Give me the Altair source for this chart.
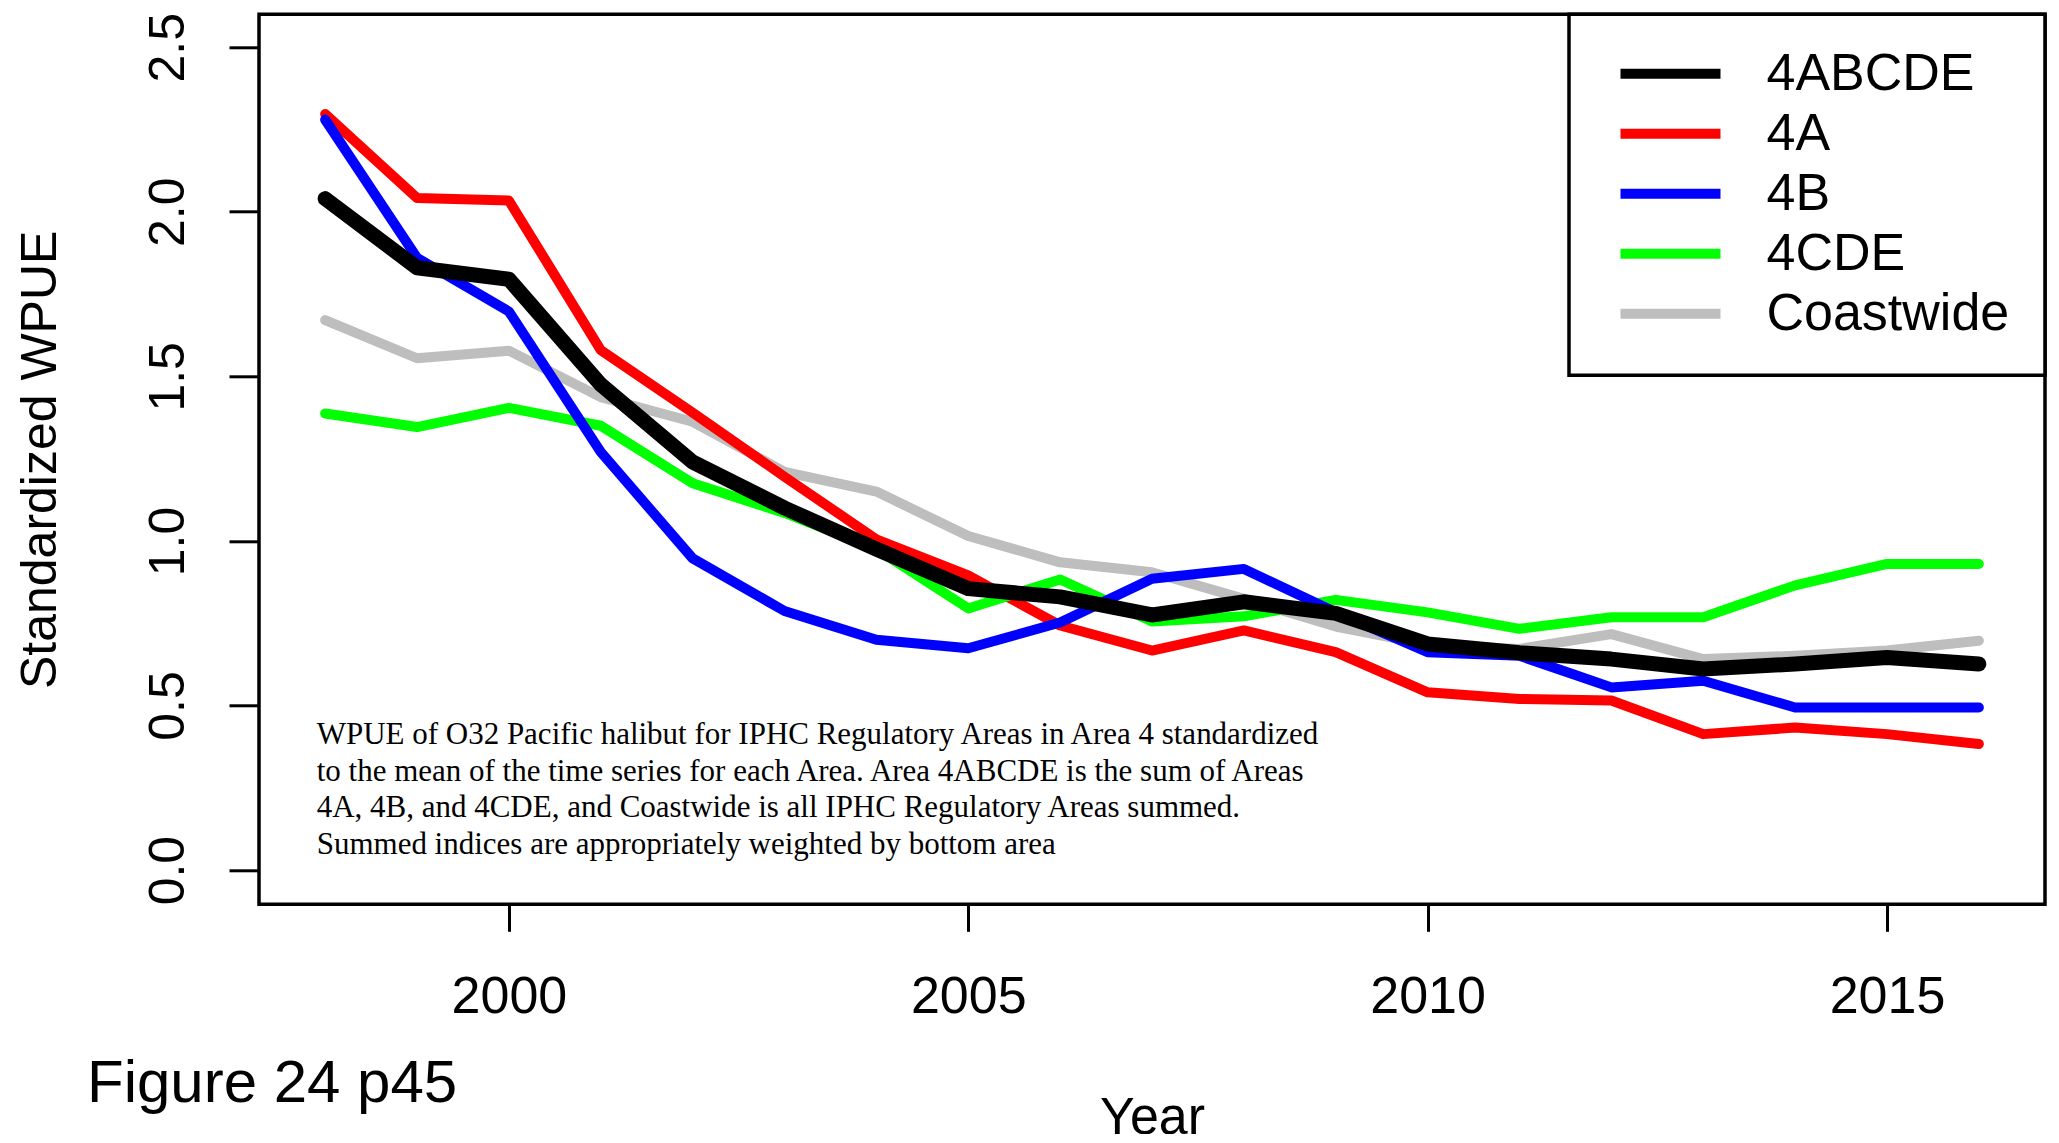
import altair as alt
import pandas as pd

# ---- data ----
years = list(range(1998, 2017))
area_4ABCDE = [2.04, 1.83, 1.795, 1.475, 1.24, 1.10, 0.975, 0.855, 0.83, 0.775, 0.815, 0.78,
               0.687, 0.66, 0.641, 0.611, 0.626, 0.646, 0.626]
area_4A = [2.297, 2.042, 2.034, 1.58, 1.39, 1.195, 1.005, 0.895, 0.743, 0.667, 0.728, 0.662,
           0.54, 0.52, 0.515, 0.413, 0.433, 0.413, 0.383]
area_4B = [2.28, 1.86, 1.697, 1.27, 0.947, 0.787, 0.70, 0.674, 0.752, 0.885, 0.915, 0.783,
           0.662, 0.651, 0.555, 0.575, 0.494, 0.494, 0.494]
area_4CDE = [1.387, 1.346, 1.404, 1.35, 1.175, 1.085, 0.975, 0.795, 0.883, 0.755, 0.771, 0.821,
             0.783, 0.733, 0.768, 0.768, 0.865, 0.93, 0.93]
coastwide = [1.671, 1.555, 1.578, 1.437, 1.362, 1.21, 1.15, 1.015, 0.935, 0.905, 0.824, 0.74,
             0.685, 0.672, 0.717, 0.641, 0.651, 0.667, 0.697]

series_names = ["4ABCDE", "4A", "4B", "4CDE", "Coastwide"]
series_colors = ["#000000", "#FF0000", "#0000FF", "#00FF00", "#BEBEBE"]
draw_order = ["Coastwide", "4A", "4CDE", "4B", "4ABCDE"]
x_ticks = [2000, 2005, 2010, 2015]
y_ticks = [0.0, 0.5, 1.0, 1.5, 2.0, 2.5]
caption_lines = [
    "WPUE of O32 Pacific halibut for IPHC Regulatory Areas in Area 4 standardized",
    "to the mean of the time series for each Area. Area 4ABCDE is the sum of Areas",
    "4A, 4B, and 4CDE, and Coastwide is all IPHC Regulatory Areas summed.",
    "Summed indices are appropriately weighted by bottom area",
]
figure_label = "Figure 24 p45"

values_by_series = {
    "4ABCDE": area_4ABCDE,
    "4A": area_4A,
    "4B": area_4B,
    "4CDE": area_4CDE,
    "Coastwide": coastwide,
}
rows = []
for name in series_names:
    for yr, v in zip(years, values_by_series[name]):
        rows.append({"year": yr, "wpue": v, "series": name})
df = pd.DataFrame(rows)

SANS = "Liberation Sans, Arial, sans-serif"
SERIF = "Liberation Serif, Times New Roman, serif"
W, H = 1786, 890
THICK, THIN = 15, 10

x_axis = alt.Axis(
    values=x_ticks, format="d", domain=False, grid=False,
    ticks=True, tickSize=27, tickWidth=3, tickColor="black",
    labelFont=SANS, labelFontSize=52, labelColor="black",
    labelBaseline="alphabetic", labelAlign="center", labelPadding=81,
    labelFlush=False, labelOverlap=False,
    title="Year", titleFont=SANS, titleFontSize=52, titleFontWeight="normal",
    titleColor="black", titleX=W / 2, titleY=229, titleBaseline="alphabetic",
    titleAlign="center",
)
y_axis = alt.Axis(
    values=y_ticks, format=".1f", domain=False, grid=False,
    ticks=True, tickSize=30, tickWidth=3, tickColor="black",
    labelFont=SANS, labelFontSize=50, labelColor="black", labelAngle=270,
    labelAlign="center", labelBaseline="alphabetic", labelPadding=46,
    labelFlush=False, labelOverlap=False,
    title="Standardized WPUE", titleFont=SANS, titleFontSize=50,
    titleFontWeight="normal", titleColor="black", titleAngle=270,
    titleX=-204, titleY=H / 2, titleAlign="center", titleBaseline="alphabetic",
)

legend = alt.Legend(
    title=None, orient="top-right", offset=0,
    symbolType="stroke", symbolSize=10000, symbolStrokeWidth=THIN, symbolOffset=11,
    labelFont=SANS, labelFontSize=52, labelColor="black", labelLimit=500,
    labelOffset=41, clipHeight=48, rowPadding=8, padding=35.5,
    fillColor="white", strokeColor="black",
)

x_enc = alt.X("year:Q", scale=alt.Scale(domain=[1997.28, 2016.72], nice=False, zero=False), axis=x_axis)
y_enc = alt.Y("wpue:Q", scale=alt.Scale(domain=[-0.104, 2.6], nice=False, zero=False), axis=y_axis)
c_enc = alt.Color("series:N", scale=alt.Scale(domain=series_names, range=series_colors), legend=legend)

layers = []
for name in draw_order:
    lw = THICK if name == series_names[0] else THIN
    layers.append(
        alt.Chart(df)
        .transform_filter(alt.datum.series == name)
        .mark_line(strokeWidth=lw, strokeCap="round", strokeJoin="round")
        .encode(x=x_enc, y=y_enc, color=c_enc)
    )

one = pd.DataFrame({"k": [0]})
caption = alt.Chart(one).mark_text(
    font=SERIF, fontSize=31, align="left", baseline="alphabetic",
    lineHeight=36.6, color="black",
).encode(x=alt.value(57.7), y=alt.value(730), text=alt.value(caption_lines))

fig = alt.Chart(one).mark_text(
    font=SANS, fontSize=60, align="left", baseline="alphabetic", color="black",
).encode(x=alt.value(-172), y=alt.value(1088), text=alt.value(figure_label))

chart = (
    alt.layer(*layers, caption, fig)
    .properties(
        width=W, height=H,
        autosize=alt.AutoSizeParams(type="none"),
        padding={"left": 251, "top": 6.3, "right": 6, "bottom": 230},
        background="white",
    )
    .configure_view(stroke="black", strokeWidth=3.5, fill="white")
    .configure_legend(strokeWidth=3.5)
)

chart.save("out.html", embed_options={"renderer": "svg", "actions": False})
